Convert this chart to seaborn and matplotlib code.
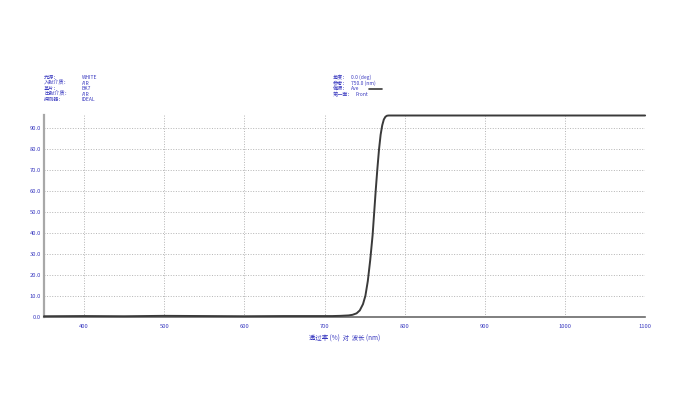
import matplotlib
matplotlib.use("Agg")
import matplotlib.pyplot as plt
from matplotlib.lines import Line2D
import pandas as pd
import seaborn as sns

# ---------------------------------------------------------------------------
# DATA
# ---------------------------------------------------------------------------
wavelength = [350, 400, 450, 500, 550, 600, 650, 700, 710, 720, 730, 735,
              740, 744, 748, 751, 754, 757, 760, 762, 764, 766, 768, 770,
              772, 774, 776, 778, 780, 800, 900, 1000, 1100]
transmittance = [0.2, 0.3, 0.2, 0.4, 0.3, 0.2, 0.3, 0.3, 0.3, 0.4, 0.6, 0.9,
                 1.6, 3.0, 6.0, 10.0, 17.0, 27.0, 39.0, 50.0, 61.0, 71.0, 80.0, 87.0,
                 91.5, 94.3, 95.6, 96.1, 96.2, 96.2, 96.2, 96.2, 96.2]

x_ticks = [400, 500, 600, 700, 800, 900, 1000, 1100]
y_ticks = [0, 10, 20, 30, 40, 50, 60, 70, 80, 90]

header_left = [("光源：", "WHITE"), ("入射介质：", "AIR"), ("基片：", "BK7"),
               ("出射介质：", "AIR"), ("探测器：", "IDEAL")]
header_right = [("角度：", "0.0 (deg)"), ("参考：", "750.0 (nm)"), ("偏振：", "Ave"),
                ("第一面：", "Front")]
x_label = "透过率 (%)  对  波长 (nm)"

TEXT_BLUE = "#3a3ac0"
CURVE = "#3a3a3a"

# ---------------------------------------------------------------------------
# PLOT
# ---------------------------------------------------------------------------
sns.set_style("white")
plt.rcParams["font.family"] = ["Noto Sans CJK SC", "DejaVu Sans"]

df = pd.DataFrame({"wavelength": wavelength, "T": transmittance})

fig = plt.figure(figsize=(6.8, 4.2), dpi=100)
ax = fig.add_axes([0.0647, 0.246, 0.884, 0.480])

sns.lineplot(data=df, x="wavelength", y="T", ax=ax, color=CURVE,
             linewidth=1.4, clip_on=False, zorder=5)

ax.set_xlim(350, 1100)
ax.set_ylim(0, 96.4)
ax.set_xticks(x_ticks)
ax.set_yticks(y_ticks)
ax.set_yticklabels([f"{v:.1f}" for v in y_ticks])
ax.tick_params(axis="both", length=0, labelsize=4.2, labelcolor=TEXT_BLUE)
ax.tick_params(axis="x", pad=5)
ax.tick_params(axis="y", pad=2)

ax.grid(True, color="#b4b4b4", linestyle=":", linewidth=0.7)
for side in ["top", "right"]:
    ax.spines[side].set_visible(False)
ax.spines["left"].set_color("#a8a8a8")
ax.spines["left"].set_linewidth(1.6)
ax.spines["bottom"].set_color("#6a6a6a")
ax.spines["bottom"].set_linewidth(1.2)

ax.set_xlabel(x_label, fontsize=4.6, color=TEXT_BLUE, labelpad=4)
ax.set_ylabel("")

# header blocks (each line placed on its own)
px_rows = [77.5, 83.1, 88.7, 94.3, 99.9]
line_y = [1 - p / 420 for p in px_rows]
for (lab, val), y in zip(header_left, line_y):
    fig.text(44 / 680, y, lab, fontsize=3.7, color=TEXT_BLUE, va="center")
    fig.text(82 / 680, y, val, fontsize=3.6, color=TEXT_BLUE, va="center")

right_val_px = [351, 351, 351, 356]
for (lab, val), y, vx in zip(header_right, line_y, right_val_px):
    fig.text(333 / 680, y, lab, fontsize=3.7, color=TEXT_BLUE, va="center")
    fig.text(vx / 680, y, val, fontsize=3.6, color=TEXT_BLUE, va="center")

# polarization line sample
fig.add_artist(Line2D([369 / 680, 382 / 680], [line_y[2], line_y[2]],
                      color=CURVE, linewidth=1.2))

fig.savefig("out.png", dpi=100)
